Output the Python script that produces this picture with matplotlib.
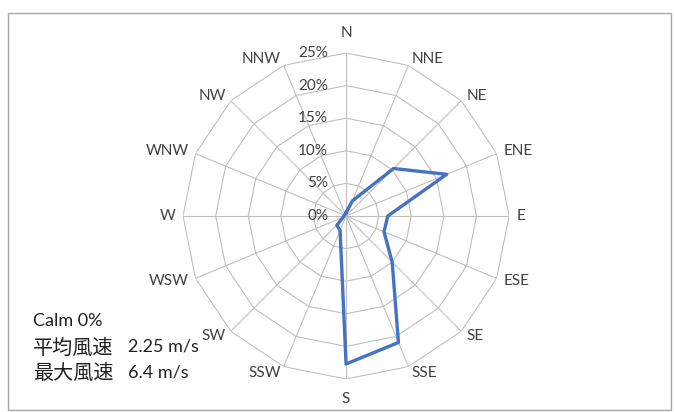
import numpy as np
import matplotlib.pyplot as plt
from matplotlib.patches import Rectangle

directions = ['N', 'NNE', 'NE', 'ENE', 'E', 'ESE', 'SE', 'SSE',
              'S', 'SSW', 'SW', 'WSW', 'W', 'WNW', 'NW', 'NNW']
freq = [0.5, 2.5, 10.3, 16.7, 6.4, 6.3, 10.0, 21.0,
        22.7, 2.4, 2.0, 0.5, 0.3, 0.3, 0.3, 0.3]
rings = [0, 5, 10, 15, 20, 25]
ring_labels = ['0%', '5%', '10%', '15%', '20%', '25%']
calm_text = 'Calm 0%'
stat_names = ['平均風速', '最大風速']
stat_values = ['2.25 m/s', '6.4 m/s']

fonts = ['Lato', 'Noto Sans CJK JP', 'DejaVu Sans']
plt.rcParams['font.family'] = fonts

fig = plt.figure(figsize=(6.74, 4.12), dpi=100)
fig.patches.append(Rectangle((8 / 674, 2 / 412), 663 / 674, 397 / 412,
                             transform=fig.transFigure, fill=False,
                             edgecolor='#a6a6a6', linewidth=1))

ax = fig.add_axes([0.2716, 0.0801, 0.4837, 0.7913], projection='polar')
ax.set_theta_zero_location('N')
ax.set_theta_direction(-1)
ax.set_ylim(0, 25)
ax.grid(False)
ax.spines['polar'].set_visible(False)
ax.set_xticks([])
ax.set_yticks([])
ax.patch.set_alpha(0)

theta = np.deg2rad(np.arange(len(directions)) * 22.5)
closed = np.append(theta, theta[0])

# polygon rings and spokes
for r in rings[1:]:
    ax.plot(closed, [r] * len(closed), color='#bfbfbf', lw=0.8, zorder=1)
for t in theta:
    ax.plot([t, t], [0, 25], color='#bfbfbf', lw=0.8, zorder=1)

# data
ax.plot(closed, np.append(freq, freq[0]), color='#4472c4', lw=2.4, zorder=3)

# radial labels
for r, lab in zip(rings, ring_labels):
    ax.annotate(lab, xy=(0, r), xytext=(-13, 0), textcoords='offset points',
                ha='right', va='center', fontsize=11, color='#404040')

# direction labels
for t, d in zip(theta, directions):
    s = np.sin(t)
    ha = 'left' if s > 0.1 else ('right' if s < -0.1 else 'center')
    r = 28.0 if abs(s) < 0.1 else 26.1
    ax.text(t, r, d, ha=ha, va='center', fontsize=11, color='#404040')

# calm / wind speed notes
fig.text(33 / 674, 1 - 321 / 412, calm_text, ha='left', va='center',
         fontsize=13, color='#202020')
for i, (name, val) in enumerate(zip(stat_names, stat_values)):
    y = 1 - (347 + 25 * i) / 412
    fig.text(33 / 674, y, name, ha='left', va='center',
             fontsize=14.5, color='#202020')
    fig.text(128 / 674, y, val, ha='left', va='center',
             fontsize=13, color='#202020')

fig.savefig('out.png', dpi=100)
